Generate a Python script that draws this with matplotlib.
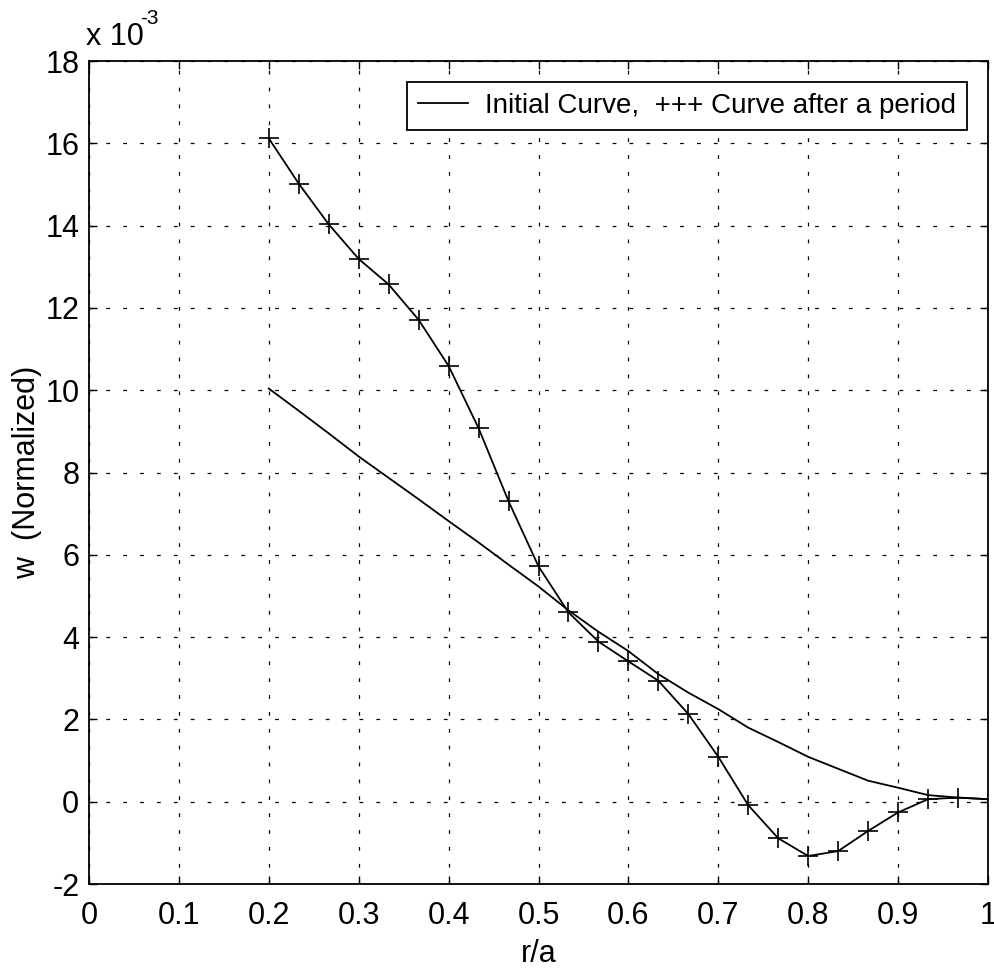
import matplotlib
matplotlib.use("Agg")
import matplotlib.pyplot as plt
from matplotlib import font_manager
from matplotlib.ticker import FixedLocator, FuncFormatter

# pick a narrow sans face if one is available
FAMILY = "Liberation Sans"
for cand in ["Liberation Sans Narrow", "Arial Narrow"]:
    try:
        font_manager.findfont(cand, fallback_to_default=False)
        FAMILY = cand
        break
    except Exception:
        pass

plt.rcParams["font.family"] = [FAMILY, "DejaVu Sans"]

# radial position r/a
r_initial = [0.2, 0.2333, 0.2667, 0.3, 0.3333, 0.3667, 0.4, 0.4333, 0.4667, 0.5,
             0.5333, 0.5667, 0.6, 0.6333, 0.6667, 0.7, 0.7333, 0.7667, 0.8, 0.8333,
             0.8667, 0.9, 0.9333, 0.9667, 1.0]
# initial deflection (x 1e-3)
w_initial = [10.04, 9.50, 8.95, 8.39, 7.87, 7.35, 6.82, 6.30, 5.76, 5.23,
             4.65, 4.13, 3.66, 3.10, 2.65, 2.25, 1.80, 1.45, 1.09, 0.80,
             0.51, 0.34, 0.16, 0.10, 0.06]

r_period = r_initial
# deflection after one period (x 1e-3)
w_period = [16.12, 15.02, 14.03, 13.19, 12.57, 11.71, 10.59, 9.08, 7.30, 5.72,
            4.60, 3.89, 3.41, 2.94, 2.13, 1.09, -0.085, -0.89, -1.32, -1.20,
            -0.71, -0.26, 0.06, 0.10, 0.06]

SCALE = 1e-3
x_ticks = [0, 0.1, 0.2, 0.3, 0.4, 0.5, 0.6, 0.7, 0.8, 0.9, 1]
y_ticks = [-2, 0, 2, 4, 6, 8, 10, 12, 14, 16, 18]
legend_label = "Initial Curve,  +++ Curve after a period"

W, H = 995, 972
fig = plt.figure(figsize=(W / 100, H / 100), dpi=100)
ax = fig.add_axes([89 / W, (H - 884) / H, (988 - 89) / W, (884 - 61) / H])

line_init, = ax.plot(r_initial, [v * SCALE for v in w_initial],
                     color="black", lw=1.3)
ax.plot(r_period, [v * SCALE for v in w_period], color="black", lw=1.3,
        marker="+", markersize=14, markeredgewidth=1.2,
        markevery=slice(0, 24))

ax.set_xlim(0, 1)
ax.set_ylim(-2 * SCALE, 18 * SCALE)
ax.xaxis.set_major_locator(FixedLocator(x_ticks))
ax.yaxis.set_major_locator(FixedLocator([t * SCALE for t in y_ticks]))
ax.xaxis.set_major_formatter(FuncFormatter(lambda v, p: "0" if v == 0 else ("1" if v == 1 else f"{v:g}")))
ax.yaxis.set_major_formatter(FuncFormatter(lambda v, p: f"{round(v / SCALE):d}"))

ax.grid(True, color="black", lw=0.9, linestyle=(0, (3, 10.5)))
ax.tick_params(direction="in", length=6, width=1, top=True, right=True,
               labelsize=22, colors="black")
ax.tick_params(axis="x", pad=12)
ax.tick_params(axis="y", pad=7)
for s in ax.spines.values():
    s.set_linewidth(1.3)
    s.set_color("black")

ax.set_xlabel("r/a", fontsize=22, labelpad=6)
ax.set_ylabel("w  (Normalized)", fontsize=22, labelpad=2)

fig.text(86 / W, 1 - 45 / H, "x 10", fontsize=22, ha="left", va="baseline")
fig.text(140 / W, 1 - 24 / H, "-3", fontsize=15, ha="left", va="baseline")

leg = ax.legend([line_init], [legend_label], loc="upper right",
                fontsize=20, frameon=True, fancybox=False, framealpha=1,
                edgecolor="black", borderaxespad=0.75, handlelength=1.8,
                handletextpad=0.6, borderpad=0.4)
leg.get_frame().set_linewidth(1.3)

fig.savefig("out.png", dpi=100)
